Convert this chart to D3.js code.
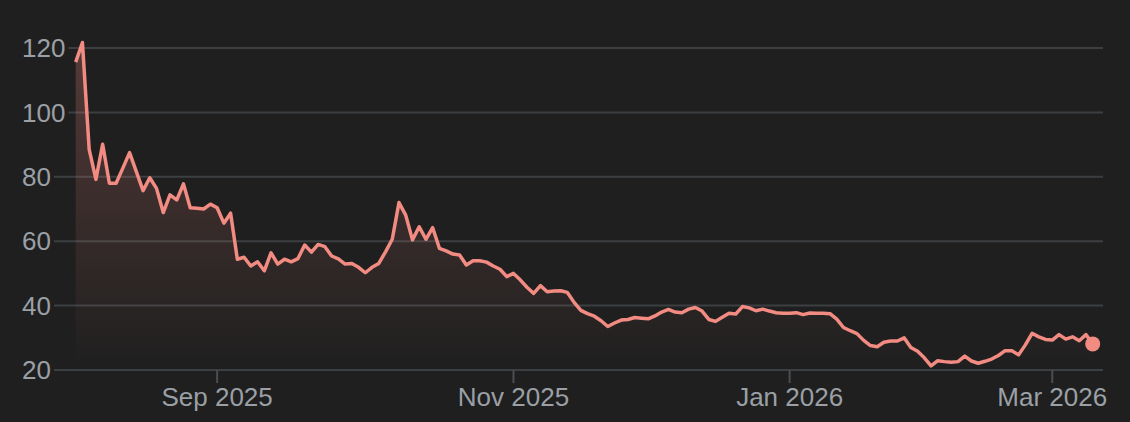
<!DOCTYPE html>
<html>
<head>
<meta charset="utf-8">
<script src="https://cdn.jsdelivr.net/npm/d3@7"></script>
<style>
    html, body { margin: 0; padding: 0; background: #1f1f1f; }
    #chart { width: 1130px; height: 422px; }
    text { font-family: "Liberation Sans", Arial, Helvetica, sans-serif; }
</style>
</head>
<body>
<div id="chart"></div>
<script>
// Price history, one value per trading day from 1 Aug 2025
const startDate = '2025-08-01';
const holidays = ['2025-09-01', '2025-11-27', '2025-12-25', '2026-01-01', '2026-01-19', '2026-02-16'];

const values = [
    115.6, 121.7, 88.5, 79.2, 90.1, 78.0, 78.0, 82.7, 87.5, 81.6,
    75.7, 79.7, 76.4, 68.9, 74.4, 72.8, 77.8, 70.4, 70.2, 70.0,
    71.5, 70.4, 65.6, 68.7, 54.4, 55.0, 52.3, 53.6, 50.8, 56.4,
    52.9, 54.4, 53.6, 54.6, 58.8, 56.6, 59.0, 58.3, 55.4, 54.5,
    52.9, 53.1, 51.9, 50.2, 51.9, 53.1, 56.7, 60.6, 72.0, 68.1,
    60.4, 64.5, 60.6, 64.2, 57.8, 57.0, 56.0, 55.7, 52.6, 53.9,
    53.9, 53.5, 52.3, 51.3, 49.0, 50.0, 48.0, 45.7, 43.8, 46.2,
    44.3, 44.5, 44.6, 44.1, 41.0, 38.5, 37.5, 36.7, 35.3, 33.5,
    34.6, 35.5, 35.7, 36.3, 36.1, 35.9, 36.8, 38.0, 38.8, 38.0,
    37.8, 38.9, 39.4, 38.3, 35.7, 35.1, 36.4, 37.6, 37.4, 39.7,
    39.3, 38.4, 38.9, 38.3, 37.8, 37.6, 37.6, 37.8, 37.2, 37.7,
    37.6, 37.6, 37.5, 35.8, 33.2, 32.2, 31.3, 29.2, 27.6, 27.2,
    28.6, 29.0, 29.0, 30.0, 27.0, 25.8, 23.8, 21.3, 22.9, 22.6,
    22.4, 22.6, 24.3, 22.8, 22.1, 22.7, 23.4, 24.5, 26.0, 26.0,
    24.7, 27.8, 31.4, 30.3, 29.5, 29.3, 31.0, 29.6, 30.3, 29.1,
    31.0, 28.1
];

const yTicks = [20, 40, 60, 80, 100, 120];
const xTickMonths = ['2025-09', '2025-11', '2026-01', '2026-03'];
const xTickLabels = ['Sep 2025', 'Nov 2025', 'Jan 2026', 'Mar 2026'];

/**
 * Build the list of trading days (weekdays without market holidays)
 * @param {String} start - first day, ISO format
 * @param {Number} count - how many days are needed
 */
function tradingDays(start, count) {
    const fmt = d3.utcFormat('%Y-%m-%d');
    const days = [];
    let d = new Date(start + 'T00:00:00Z');
    while (days.length < count) {
        const wd = d.getUTCDay();
        if (wd !== 0 && wd !== 6 && !holidays.includes(fmt(d))) {
            days.push(fmt(d));
        }
        d = d3.utcDay.offset(d, 1);
    }
    return days;
}

function drawChart() {
    const width = 1130;
    const height = 422;
    const lineColor = '#f28b82';
    const gridColor = '#3c3f42';
    const textColor = '#9aa0a6';

    const dates = tradingDays(startDate, values.length);

    const svg = d3.select('#chart')
        .append('svg')
        .attr('width', width)
        .attr('height', height);

    svg.append('rect')
        .attr('width', width)
        .attr('height', height)
        .attr('fill', '#1f1f1f');

    // Points are spaced by trading day, not by calendar day
    const x = d3.scaleLinear()
        .domain([0, values.length - 1])
        .range([75.7, 1092.7]);

    const y = d3.scaleLinear()
        .domain([20, 120])
        .range([370, 48]);

    // Gradient for the area under the line
    const grad = svg.append('defs')
        .append('linearGradient')
        .attr('id', 'area-fill')
        .attr('gradientUnits', 'userSpaceOnUse')
        .attr('x1', 0).attr('x2', 0)
        .attr('y1', y(120)).attr('y2', y(20));
    grad.append('stop').attr('offset', '0%').attr('stop-color', lineColor).attr('stop-opacity', 0.25);
    grad.append('stop').attr('offset', '100%').attr('stop-color', lineColor).attr('stop-opacity', 0);

    // Y axis labels and grid lines
    const yAxis = svg.append('g').attr('class', 'y-axis');
    yTicks.forEach(t => {
        const label = yAxis.append('text')
            .attr('x', 22)
            .attr('y', y(t))
            .attr('dy', '0.35em')
            .attr('fill', textColor)
            .attr('font-size', '26px')
            .text(t);
        const right = label.node().getBBox();
        yAxis.insert('line', 'text')
            .attr('x1', Math.max(52, right.x + right.width + 3))
            .attr('x2', 1103)
            .attr('y1', y(t))
            .attr('y2', y(t))
            .attr('stroke', gridColor)
            .attr('stroke-width', 2);
    });

    // X axis ticks at the first trading day of each labelled month
    const xAxis = svg.append('g').attr('class', 'x-axis');
    xTickMonths.forEach((m, i) => {
        const idx = dates.findIndex(d => d.startsWith(m));
        const tx = x(idx);
        xAxis.append('line')
            .attr('x1', tx).attr('x2', tx)
            .attr('y1', y(20)).attr('y2', y(20) + 13)
            .attr('stroke', '#4a4d51')
            .attr('stroke-width', 2);
        xAxis.append('text')
            .attr('x', tx)
            .attr('y', 406)
            .attr('text-anchor', 'middle')
            .attr('fill', textColor)
            .attr('font-size', '26px')
            .text(xTickLabels[i]);
    });

    // Area and line
    const area = d3.area()
        .x((d, i) => x(i))
        .y0(y(20))
        .y1(d => y(d));

    const line = d3.line()
        .x((d, i) => x(i))
        .y(d => y(d));

    svg.append('path')
        .datum(values)
        .attr('d', area)
        .attr('fill', 'url(#area-fill)');

    svg.append('path')
        .datum(values)
        .attr('d', line)
        .attr('fill', 'none')
        .attr('stroke', lineColor)
        .attr('stroke-width', 3.5)
        .attr('stroke-linejoin', 'round');

    // Marker on the latest value
    const last = values.length - 1;
    svg.append('circle')
        .attr('cx', x(last))
        .attr('cy', y(values[last]))
        .attr('r', 7.5)
        .attr('fill', lineColor);
}

drawChart();
</script>
</body>
</html>
